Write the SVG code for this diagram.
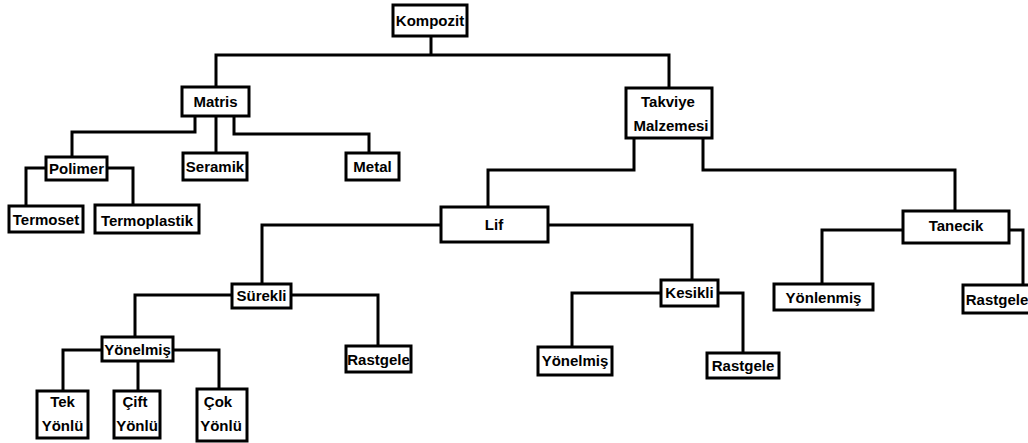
<svg xmlns="http://www.w3.org/2000/svg" width="1028" height="443" viewBox="0 0 1028 443">
<style>
.box{fill:#fff;stroke:#000;stroke-width:3}
.lbl{font-family:"Liberation Sans",Arial,sans-serif;font-weight:bold;font-size:15px;fill:#000;text-anchor:middle}
.con{fill:none;stroke:#000;stroke-width:3;stroke-linejoin:miter}
</style>
<rect width="1028" height="443" fill="#fff"/>
<g id="connectors" class="con">
<path d="M431,36 V55"/>
<path d="M216,87 V55 H669 V88"/>
<path d="M195,116 V132 H72 V157"/>
<path d="M216,116 V153"/>
<path d="M234,116 V134 H369 V153"/>
<path d="M46,168 H26 V206"/>
<path d="M107,168 H133 V205"/>
<path d="M634,138 V170 H488 V207"/>
<path d="M703,138 V170 H955 V211"/>
<path d="M441,225 H262 V284"/>
<path d="M548,225 H692 V280"/>
<path d="M232,295 H135 V337"/>
<path d="M291,295 H378 V346"/>
<path d="M102,350 H63 V391"/>
<path d="M138,361 V391"/>
<path d="M173,350 H219 V389"/>
<path d="M661,293 H572 V347"/>
<path d="M718,293 H743 V353"/>
<path d="M903,230 H822 V284"/>
<path d="M1009,230 H1023 V285"/>
</g>
<g id="kompozit"><rect class="box" x="393" y="5" width="74" height="31"/><text class="lbl" x="430" y="26">Kompozit</text></g>
<g id="matris"><rect class="box" x="182" y="87" width="67" height="29"/><text class="lbl" x="215.5" y="107">Matris</text></g>
<g id="takviye"><rect class="box" x="626" y="88" width="86" height="50"/><text class="lbl" x="668" y="107">Takviye</text><text class="lbl" x="671" y="131">Malzemesi</text></g>
<g id="polimer"><rect class="box" x="46" y="157" width="61" height="23"/><text class="lbl" x="76.5" y="174">Polimer</text></g>
<g id="seramik"><rect class="box" x="183" y="153" width="64" height="27"/><text class="lbl" x="215" y="172">Seramik</text></g>
<g id="metal"><rect class="box" x="346" y="153" width="53" height="27"/><text class="lbl" x="372.5" y="172">Metal</text></g>
<g id="termoset"><rect class="box" x="9" y="206" width="74" height="26"/><text class="lbl" x="46" y="225">Termoset</text></g>
<g id="termoplastik"><rect class="box" x="95" y="205" width="104" height="28"/><text class="lbl" x="147" y="226">Termoplastik</text></g>
<g id="lif"><rect class="box" x="441" y="207" width="107" height="35"/><text class="lbl" x="494" y="230">Lif</text></g>
<g id="tanecik"><rect class="box" x="903" y="211" width="106" height="32"/><text class="lbl" x="956" y="231">Tanecik</text></g>
<g id="surekli"><rect class="box" x="232" y="284" width="59" height="24"/><text class="lbl" x="261.5" y="301">Sürekli</text></g>
<g id="kesikli"><rect class="box" x="661" y="280" width="57" height="26"/><text class="lbl" x="689.5" y="298">Kesikli</text></g>
<g id="yonlenmis"><rect class="box" x="774" y="284" width="99" height="26"/><text class="lbl" x="823.5" y="303">Yönlenmiş</text></g>
<g id="rastgele-tanecik"><rect class="box" x="963" y="285" width="80" height="28"/><text class="lbl" x="997" y="305">Rastgele</text></g>
<g id="yonelmis-surekli"><rect class="box" x="102" y="337" width="71" height="24"/><text class="lbl" x="137.5" y="355">Yönelmiş</text></g>
<g id="rastgele-surekli"><rect class="box" x="346" y="346" width="65" height="26"/><text class="lbl" x="378.5" y="365">Rastgele</text></g>
<g id="yonelmis-kesikli"><rect class="box" x="538" y="347" width="74" height="28"/><text class="lbl" x="575" y="366">Yönelmiş</text></g>
<g id="rastgele-kesikli"><rect class="box" x="707" y="353" width="72" height="25"/><text class="lbl" x="743" y="371">Rastgele</text></g>
<g id="tek-yonlu"><rect class="box" x="37" y="391" width="51" height="47"/><text class="lbl" x="62.5" y="407">Tek</text><text class="lbl" x="62.5" y="431">Yönlü</text></g>
<g id="cift-yonlu"><rect class="box" x="114" y="391" width="46" height="47"/><text class="lbl" x="135" y="407">Çift</text><text class="lbl" x="137" y="431">Yönlü</text></g>
<g id="cok-yonlu"><rect class="box" x="197" y="389" width="50" height="52"/><text class="lbl" x="218" y="407">Çok</text><text class="lbl" x="221" y="431">Yönlü</text></g>
</svg>
